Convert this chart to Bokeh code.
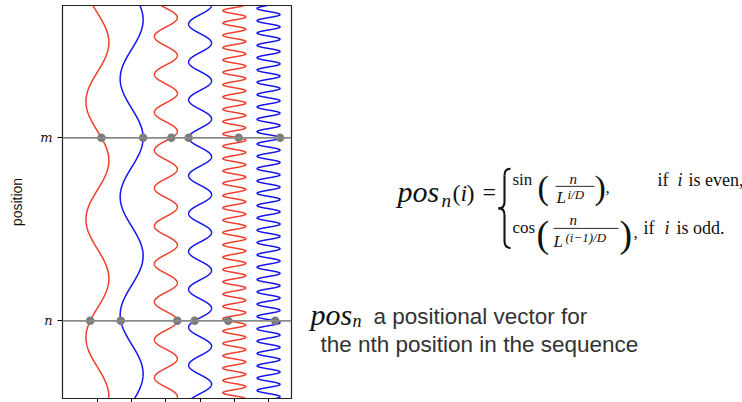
import numpy as np
from bokeh.plotting import figure
from bokeh.models import Range1d, FixedTicker, Span, Label
from bokeh.layouts import row
from bokeh.embed import file_html
from bokeh.resources import INLINE

# ---------------- data ----------------
dims = [0, 1, 2, 3, 4, 5]                        # embedding dimension index i
curve_colors = ["#f03e2c", "#1414ee", "#f03e2c", "#1414ee", "#f03e2c", "#1414ee"]
periods = [6.45, 6.45, 2.071, 2.071, 0.6735, 0.6735]   # wavelength in position units
peak_pos = [12.76, 14.0, 4.0, 12.965, 13.874, 14.0]    # a position where the curve peaks
amplitude = 0.335
pos_n = 4
pos_m = 14
marked = [pos_n, pos_m]
tick_labels = {pos_n: "n", pos_m: "m"}
y_lo, y_hi = -0.246, 21.23
x_lo, x_hi = -1.02, 5.67

# ---------------- left figure ----------------
p = figure(width=293, height=402, x_range=Range1d(x_lo, x_hi), y_range=Range1d(y_lo, y_hi),
           output_backend="svg", toolbar_location=None, title=None,
           min_border_left=62, min_border_right=2, min_border_top=5, min_border_bottom=4)
p.grid.visible = False
p.outline_line_color = "#222222"
p.outline_line_width = 1.2

t = np.linspace(y_lo, y_hi, 4000)
dot_x, dot_y = [], []
for d, c, per, pk in zip(dims, curve_colors, periods, peak_pos):
    xs = d + amplitude * np.cos(2 * np.pi * (t - pk) / per)
    p.line(xs, t, line_color=c, line_width=1.5)
    for mp in marked:
        dot_x.append(d + amplitude * np.cos(2 * np.pi * (mp - pk) / per))
        dot_y.append(mp)

for mp in marked:
    p.add_layout(Span(location=mp, dimension="width", line_color="#8a8a8a", line_width=1.8))

p.scatter(x=dot_x, y=dot_y, size=8.5, fill_color="#7b7b7b", line_color=None)

p.yaxis.ticker = FixedTicker(ticks=marked)
p.yaxis.major_label_overrides = tick_labels
p.yaxis.minor_tick_line_color = None
p.yaxis.major_tick_out = 5
p.yaxis.major_tick_in = 0
p.yaxis.major_label_standoff = 5
p.yaxis.major_label_text_font = "DejaVu Serif"
p.yaxis.major_label_text_font_style = "italic"
p.yaxis.major_label_text_font_size = "13px"
p.yaxis.major_label_text_color = "#111111"
p.yaxis.axis_label = "position"
p.yaxis.axis_label_text_font = "Liberation Sans"
p.yaxis.axis_label_text_font_style = "normal"
p.yaxis.axis_label_text_font_size = "14px"
p.yaxis.axis_label_text_color = "#111111"
p.yaxis.axis_label_standoff = 12
p.yaxis.axis_line_color = "#222222"

p.xaxis.ticker = FixedTicker(ticks=dims)
p.xaxis.minor_tick_line_color = None
p.xaxis.major_tick_out = 4
p.xaxis.major_tick_in = 0
p.xaxis.major_label_text_color = None
p.xaxis.major_label_standoff = 0
p.xaxis.axis_line_color = "#222222"

# ---------------- right figure: text ----------------
OX, OY = 293, 0
W2, H2 = 742 - OX, 402
q = figure(width=W2, height=H2, x_range=Range1d(0, W2), y_range=Range1d(H2, 0),
           output_backend="svg", toolbar_location=None, title=None,
           x_axis_location=None, y_axis_location=None,
           min_border_left=0, min_border_right=0, min_border_top=0, min_border_bottom=0)
q.grid.visible = False
q.outline_line_color = None


def lab(txt, sx, sy, size, font="Liberation Serif", style="normal", color="#111111"):
    # sy is the wanted baseline; Bokeh draws the baseline about one descent lower
    q.add_layout(Label(x=sx - OX, y=sy - OY - 0.21 * size, text=txt, text_font=font,
                       text_font_size=f"{size}px", text_font_style=style,
                       text_color=color, text_baseline="alphabetic", text_align="left"))


# pos_n(i) =
lab("pos", 397, 197, 30, style="italic")
lab("n", 441, 203, 19, style="italic")
lab("(", 452, 197, 24)
lab("i", 460, 197, 24, style="italic")
lab(")", 466, 197, 24)
lab("=", 482, 196, 24)

# curly brace (typographic decoration of the cases formula)
bx = [510 - OX, 504 - OX, 504 - OX, 498 - OX, 504 - OX, 504 - OX]
by = [167 - OY, 174 - OY, 201 - OY, 207.5 - OY, 214 - OY, 241 - OY]
ex = [504 - OX, 504 - OX, 498 - OX, 504 - OX, 504 - OX, 510 - OX]
ey = [174 - OY, 201 - OY, 207.5 - OY, 214 - OY, 241 - OY, 248 - OY]
c0x = [505.5 - OX, 504 - OX, 504 - OX, 501.5 - OX, 504 - OX, 504 - OX]
c0y = [167 - OY, 174 - OY, 205.5 - OY, 207.5 - OY, 214 - OY, 245.5 - OY]
c1x = [504 - OX, 504 - OX, 501.5 - OX, 504 - OX, 504 - OX, 505.5 - OX]
c1y = [169.5 - OY, 201 - OY, 207.5 - OY, 209.5 - OY, 241 - OY, 248 - OY]
q.bezier(x0=bx, y0=by, x1=ex, y1=ey, cx0=c0x, cy0=c0y, cx1=c1x, cy1=c1y,
         line_color="#111111", line_width=2.1)

# line 1
lab("sin", 512, 182, 17)
lab("(", 537, 193, 34)
lab("n", 569, 181, 15, style="italic")
lab("L", 556, 200, 17, style="italic")
lab("i/D", 567, 196, 13, style="italic")
lab(")", 594, 193, 34)
lab(",", 605, 190, 17)
lab("if", 657, 182, 18)
lab("i", 677, 182, 18, style="italic")
lab("is even,", 688, 182, 18)

# line 2
lab("cos", 512, 231, 17)
lab("(", 536, 242, 38)
lab("n", 569, 223, 15, style="italic")
lab("L", 553, 245, 17, style="italic")
lab("(i\u22121)/D", 565, 240, 13, style="italic")
lab(")", 619, 242, 38)
lab(",", 633, 236, 17)
lab("if", 643, 231, 18)
lab("i", 664, 231, 18, style="italic")
lab("is odd.", 676, 231, 18)

# fraction rules
q.segment(x0=[555 - OX, 553 - OX], y0=[185 - OY, 228 - OY],
          x1=[594 - OX, 618 - OX], y1=[185 - OY, 228 - OY],
          line_color="#111111", line_width=0.9)

# description
lab("pos", 310, 322, 30, style="italic")
lab("n", 352, 327, 18, style="italic")
lab("a positional vector for", 373, 323, 22.5, font="Liberation Sans", color="#333333")
lab("the nth position in the sequence", 320, 351, 22.5, font="Liberation Sans", color="#333333")

layout = row(p, q)
open("out.html", "w").write(file_html(layout, INLINE))
